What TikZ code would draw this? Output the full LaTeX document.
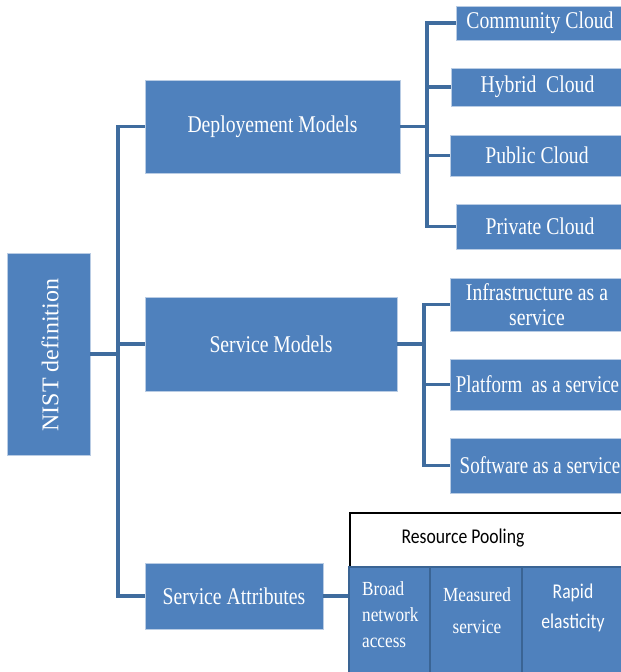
\documentclass[tikz,border=0pt]{standalone}
\usepackage{fontspec}
\setmainfont{Liberation Serif}
\newfontfamily\serifc[FakeStretch=0.82]{Liberation Serif}
\newfontfamily\serifd[FakeStretch=0.79]{Liberation Serif}
\newfontfamily\serife[FakeStretch=0.86]{Liberation Serif}
\newfontfamily\sansc[FakeStretch=0.84]{Carlito}
\definecolor{nblue}{HTML}{4F81BD}
\definecolor{nline}{HTML}{3F6C9E}
\definecolor{nedge}{HTML}{B9CCE4}
\definecolor{ncell}{HTML}{3A6494}
\tikzset{
  bluebox/.style={rectangle, fill=nblue, draw=nedge, line width=0.6pt, text=white,
    inner sep=0pt, align=center, font=\serifc\fontsize{24}{25}\selectfont},
  longtext/.style={font=\serifd\fontsize{24}{25}\selectfont},
  conn/.style={draw=nline, line width=3.6pt},
  cellbox/.style={rectangle, fill=nblue, draw=ncell, line width=1.6pt, inner sep=0pt},
  celltext/.style={text=white, inner sep=0pt},
}
\begin{document}
\begin{tikzpicture}[x=1pt, y=-1pt]
\useasboundingbox (0,0) rectangle (621,672);
% root
\node[bluebox, minimum width=83pt, minimum height=202pt] (nist) at (48.5,354) {};
\node[text=white, rotate=90, inner sep=0pt, font=\fontsize{24}{26}\selectfont] (nisttext) at (50,355) {NIST definition};
% level 1
\node[bluebox, minimum width=255pt, minimum height=93pt] (dep) at (272.5,126.5) {Deployement Models};
\node[bluebox, minimum width=252pt, minimum height=94pt] (sm) at (271,344) {Service Models};
\node[bluebox, minimum width=178pt, minimum height=66pt] (sa) at (234,596) {Service Attributes};
% deployment children
\node[bluebox, minimum width=168pt, minimum height=34pt] (comm) at (540,23) {Community Cloud};
\node[bluebox, minimum width=173pt, minimum height=38pt] (hyb) at (537.5,87) {Hybrid\ \ Cloud};
\node[bluebox, minimum width=174pt, minimum height=41pt] (pub) at (537,155.5) {Public Cloud};
\node[bluebox, minimum width=168pt, minimum height=45pt] (priv) at (540,226.5) {Private Cloud};
% service model children
\node[bluebox, minimum width=174pt, minimum height=53pt] (iaas) at (537,304.5) {Infrastructure as a\\service};
\node[bluebox, longtext, minimum width=174pt, minimum height=51pt] (paas) at (537,384.5) {\hspace*{1pt}Platform\ \ as a service};
\node[bluebox, longtext, minimum width=174pt, minimum height=55pt] (saas) at (537,465.5) {\hspace*{6pt}Software as a service};
% attributes
\node[rectangle, draw=black, fill=white, line width=2.2pt, minimum width=284pt, minimum height=54pt, inner sep=0pt] (rp) at (492,540) {};
\node[inner sep=0pt, font=\sansc\fontsize{21}{22}\selectfont] (rptext) at (463,538) {Resource Pooling};
\node[cellbox, minimum width=81pt, minimum height=108pt] (bna) at (389.5,621) {};
\node[cellbox, minimum width=92pt, minimum height=108pt] (ms) at (476,621) {};
\node[cellbox, minimum width=102pt, minimum height=108pt] (re) at (573,621) {};
\node[celltext, anchor=west, align=left, font=\serife\fontsize{20}{26}\selectfont] (bnat) at (362,615) {Broad\\network\\access};
\node[celltext, align=center, font=\serife\fontsize{20}{32}\selectfont] (mst) at (477,611) {Measured\\service};
\node[celltext, align=center, font=\sansc\fontsize{21}{30}\selectfont] (ret) at (573,608) {Rapid\\elasticity};
% junctions
\coordinate (jt) at (118,354);
\coordinate (jd) at (427,126.5);
\coordinate (js) at (424,344);
% connectors
\draw[conn] (nist.east) -- (jt);
\draw[conn] (dep.west) -| (jt);
\draw[conn] (sm.west) -| (jt);
\draw[conn] (sa.west) -| (jt);
\draw[conn] (dep.east) -- (jd);
\draw[conn] (comm.west) -| (jd);
\draw[conn] (hyb.west) -| (jd);
\draw[conn] (pub.west) -| (jd);
\draw[conn] (priv.west) -| (jd);
\draw[conn] (sm.east) -- (js);
\draw[conn] (iaas.west) -| (js);
\draw[conn] (paas.west) -| (js);
\draw[conn] (saas.west) -| (js);
\draw[conn] (sa.east) -- (sa.east -| bna.west);
\end{tikzpicture}
\end{document}
